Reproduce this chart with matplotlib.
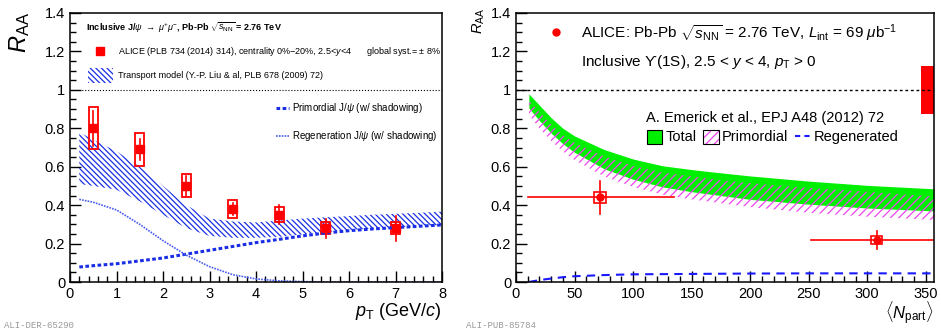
import matplotlib
matplotlib.use("Agg")
import matplotlib.pyplot as plt
from matplotlib.patches import Rectangle
from matplotlib.ticker import MultipleLocator, FixedLocator, FixedFormatter
import numpy as np

plt.rcParams["font.family"] = ["Liberation Sans", "DejaVu Sans"]
plt.rcParams["mathtext.fontset"] = "custom"
plt.rcParams["mathtext.rm"] = "Liberation Sans"
plt.rcParams["mathtext.it"] = "Liberation Sans:italic"
plt.rcParams["mathtext.bf"] = "Liberation Sans:bold"
plt.rcParams["hatch.linewidth"] = 0.9

# --- left panel: J/psi RAA vs pT ---
pt = [0.5, 1.5, 2.5, 3.5, 4.5, 5.5, 7.0]
raa_pt = [0.80, 0.69, 0.50, 0.38, 0.35, 0.28, 0.28]
stat_pt = [0.09, 0.055, 0.05, 0.03, 0.05, 0.05, 0.065]
syst_pt = [0.11, 0.085, 0.06, 0.045, 0.04, 0.03, 0.03]

model_pt = [0.2, 0.5, 1.0, 1.5, 2.0, 2.5, 3.0, 3.5, 4.0, 4.5, 5.0, 5.5, 6.0, 6.5, 7.0, 7.5, 8.0]
model_hi = [0.78, 0.74, 0.68, 0.60, 0.50, 0.40, 0.33, 0.315, 0.31, 0.32, 0.33, 0.337, 0.343, 0.35, 0.355, 0.36, 0.366]
model_lo = [0.51, 0.50, 0.48, 0.42, 0.35, 0.28, 0.24, 0.23, 0.23, 0.235, 0.248, 0.26, 0.27, 0.278, 0.285, 0.29, 0.297]
primordial_pt = [0.078, 0.085, 0.095, 0.11, 0.125, 0.145, 0.165, 0.185, 0.205, 0.222, 0.24, 0.255, 0.267, 0.276, 0.283, 0.29, 0.297]
regen_pt = [0.43, 0.415, 0.375, 0.30, 0.215, 0.14, 0.08, 0.038, 0.016, 0.006, 0.002, 0.0, 0.0, 0.0, 0.0, 0.0, 0.0]

# --- right panel: Upsilon RAA vs Npart ---
npart = [72, 308]
raa_np = [0.44, 0.22]
stat_np = [0.085, 0.047]
syst_np = [0.03, 0.02]
npart_lo = [10, 252]
npart_hi = [135, 357]

th_np = [11, 20, 30, 40, 50, 75, 100, 125, 150, 175, 200, 250, 300, 357]
total_hi = [0.979, 0.92, 0.855, 0.80, 0.76, 0.69, 0.64, 0.605, 0.585, 0.568, 0.552, 0.525, 0.503, 0.485]
total_lo = [0.905, 0.84, 0.775, 0.72, 0.675, 0.59, 0.535, 0.495, 0.47, 0.45, 0.43, 0.405, 0.385, 0.37]
prim_hi = [0.945, 0.885, 0.82, 0.765, 0.725, 0.655, 0.605, 0.57, 0.55, 0.53, 0.515, 0.49, 0.47, 0.445]
prim_lo = [0.87, 0.80, 0.735, 0.68, 0.635, 0.55, 0.495, 0.455, 0.43, 0.41, 0.39, 0.36, 0.34, 0.323]
regen_np = [0.0, 0.01, 0.018, 0.025, 0.03, 0.036, 0.04, 0.041, 0.042, 0.043, 0.044, 0.045, 0.045, 0.045]
global_syst = 0.125

yticks = [0, 0.2, 0.4, 0.6, 0.8, 1.0, 1.2, 1.4]
ylabels = ["0", "0.2", "0.4", "0.6", "0.8", "1", "1.2", "1.4"]

blue_hatch = "\\" * 6
pink_hatch = "////"

fig = plt.figure(figsize=(9.41, 3.32), dpi=100)
ax1 = fig.add_axes([70/941, 1-282/332, 372/941, 269/332])
ax2 = fig.add_axes([516/941, 1-282/332, 418/941, 269/332])

for ax in (ax1, ax2):
    ax.set_ylim(0, 1.4)
    ax.yaxis.set_major_locator(FixedLocator(yticks))
    ax.yaxis.set_major_formatter(FixedFormatter(ylabels))
    ax.yaxis.set_minor_locator(MultipleLocator(0.05))
    ax.tick_params(which="both", direction="in", labelsize=10.5, width=1)
    ax.tick_params(which="major", length=8)
    ax.tick_params(which="minor", length=4)
    for s in ax.spines.values():
        s.set_linewidth(1.1)

# left
ax1.set_xlim(0, 8)
ax1.xaxis.set_major_locator(MultipleLocator(1))
ax1.xaxis.set_minor_locator(MultipleLocator(0.2))
ax1.axhline(1.0, color="black", ls=":", lw=0.8)

ax1.fill_between(model_pt, model_lo, model_hi, facecolor="none", edgecolor="#1a2ee6",
                 hatch=blue_hatch, linewidth=0)
ax1.plot(model_pt, primordial_pt, color="#1a2ee6", ls=(0, (1.2, 0.8)), lw=2.2)
ax1.plot(model_pt, regen_pt, color="#4a5cf0", ls=(0, (1, 0.7)), lw=1.2)

for x, y, st, sy in zip(pt, raa_pt, stat_pt, syst_pt):
    ax1.add_patch(Rectangle((x-0.1, y-sy), 0.2, 2*sy, facecolor="none", edgecolor="red", lw=1.3))
    ax1.plot([x, x], [y-st, y+st], color="red", lw=1.2)
ax1.plot(pt, raa_pt, "s", color="red", ms=6)

ax1.text(0.34, 1.32, r"Inclusive J/$\psi$ $\rightarrow$ $\mu^{+}\mu^{-}$, Pb-Pb $\sqrt{s_{\rm NN}}$ = 2.76 TeV",
         fontsize=6.5, fontweight="bold", va="center")
ax1.plot([0.645], [1.20], "s", color="red", ms=6)
ax1.text(1.03, 1.20, r"ALICE (PLB 734 (2014) 314), centrality 0%$-$20%, 2.5<$y$<4", fontsize=6.5, va="center")
ax1.text(6.37, 1.20, "global syst.= $\\pm$ 8%", fontsize=6.5, va="center")
ax1.add_patch(Rectangle((0.39, 1.035), 0.54, 0.08, facecolor="none", edgecolor="#1a2ee6",
                        hatch=blue_hatch, linewidth=0))
ax1.text(1.03, 1.073, "Transport model (Y.-P. Liu & al, PLB 678 (2009) 72)", fontsize=6.5, va="center")
ax1.plot([4.43, 4.72], [0.906, 0.906], color="#1a2ee6", ls=(0, (1.2, 0.8)), lw=2.2)
ax1.text(4.77, 0.906, r"Primordial J/$\psi$ (w/ shadowing)", fontsize=7, va="center")
ax1.plot([4.43, 4.72], [0.76, 0.76], color="#4a5cf0", ls=(0, (1, 0.7)), lw=1.2)
ax1.text(4.77, 0.76, r"Regeneration J/$\psi$ (w/ shadowing)", fontsize=7, va="center")

# right
ax2.set_xlim(0, 357)
ax2.xaxis.set_major_locator(MultipleLocator(50))
ax2.xaxis.set_minor_locator(MultipleLocator(10))
ax2.axhline(1.0, color="black", ls=(0, (2, 2)), lw=1)

ax2.fill_between(th_np, total_lo, total_hi, color="#00ee00", linewidth=0)
ax2.fill_between(th_np, prim_lo, prim_hi, facecolor="none", edgecolor="#ee44ee",
                 hatch=pink_hatch, linewidth=0)
ax2.plot(th_np, regen_np, color="#1a1aff", ls=(0, (4, 3)), lw=1.5)

for x, y, st, sy, lo, hi in zip(npart, raa_np, stat_np, syst_np, npart_lo, npart_hi):
    ax2.plot([lo, hi], [y, y], color="red", lw=1.2)
    ax2.plot([x, x], [y-st, y+st], color="red", lw=1.2)
    ax2.add_patch(Rectangle((x-5, y-sy), 10, 2*sy, facecolor="none", edgecolor="red", lw=1.2))
ax2.plot(npart, raa_np, "o", color="red", ms=5)
ax2.add_patch(Rectangle((346, 1-global_syst), 11, 2*global_syst, facecolor="red",
                        edgecolor="none", clip_on=False))

ax2.plot([34], [1.30], "o", color="red", ms=5)
ax2.text(55.5, 1.30, r"ALICE: Pb-Pb $\sqrt{s_{\rm NN}}$ = 2.76 TeV, $L_{\rm int}$ = 69 $\mu$b$^{-1}$",
         fontsize=11, va="center")
ax2.text(55.5, 1.146, r"Inclusive ϒ(1S), 2.5 < $y$ < 4, $p_{\rm T}$ > 0", fontsize=11, va="center")
ax2.text(111, 0.854, "A. Emerick et al., EPJ A48 (2012) 72", fontsize=10.5, va="center")
ax2.add_patch(Rectangle((112, 0.718), 13, 0.074, facecolor="#00ee00", edgecolor="black", lw=0.8))
ax2.text(128, 0.755, "Total", fontsize=10.5, va="center")
ax2.add_patch(Rectangle((160, 0.718), 13, 0.074, facecolor="white", edgecolor="#ee44ee",
                        hatch=pink_hatch, lw=0))
ax2.add_patch(Rectangle((160, 0.718), 13, 0.074, facecolor="none", edgecolor="black", lw=0.8))
ax2.text(176, 0.755, "Primordial", fontsize=10.5, va="center")
ax2.plot([238, 251], [0.758, 0.758], color="#1a1aff", ls=(0, (2.5, 2)), lw=1.5)
ax2.text(254.5, 0.755, "Regenerated", fontsize=10.5, va="center")

# axis titles
fig.text(442/941, 1-312/332, r"$p_{\rm T}$ (GeV/$c$)", fontsize=13, ha="right", va="center")
fig.text(934/941, 1-313/332, r"$\langle N_{\rm part}\rangle$", fontsize=12, ha="right", va="center")
fig.text(20/941, 1-12/332, r"$R_{\rm AA}$", fontsize=17, rotation=90, ha="center", va="top")
fig.text(479/941, 1-8/332, r"$R_{\rm AA}$", fontsize=10.5, rotation=90, ha="center", va="top")

fig.text(4/941, 1-325/332, "ALI-DER-65290", fontsize=6.5, color="#999999", family="Liberation Mono", va="center")
fig.text(466/941, 1-325/332, "ALI-PUB-85784", fontsize=6.5, color="#999999", family="Liberation Mono", va="center")

fig.savefig("out.png", dpi=100)
